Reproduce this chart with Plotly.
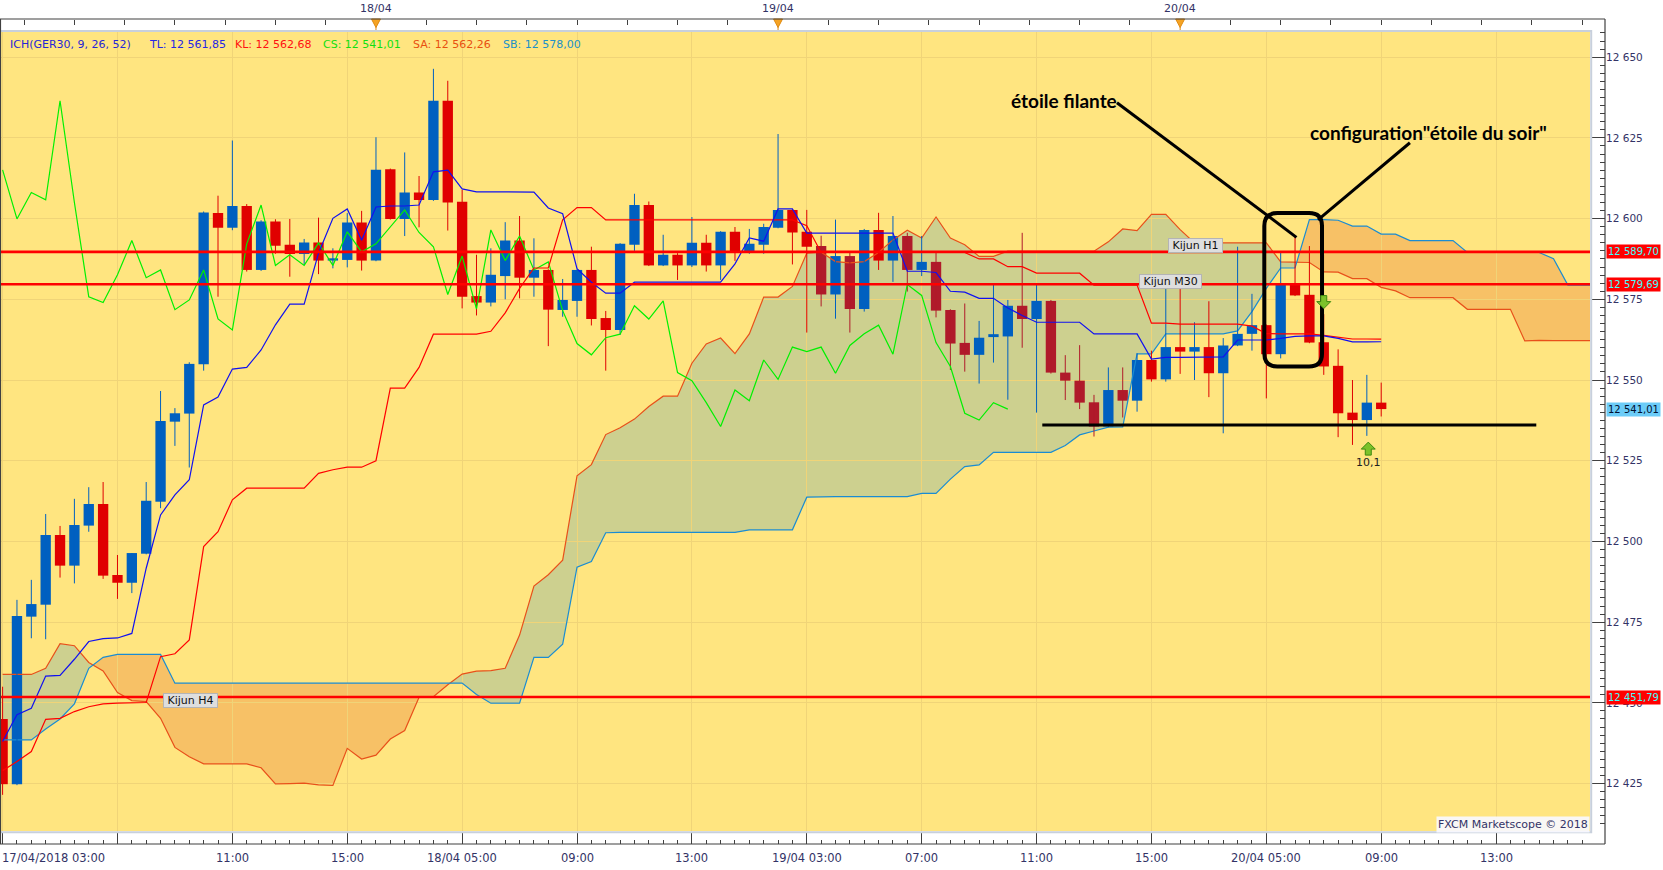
import plotly.graph_objects as go

# ------------------------------------------------------------------ data
OPEN = [12445.0, 12424.8, 12476.7, 12480.4, 12502.0, 12492.5, 12504.9, 12511.6, 12489.6, 12487.2,
        12496.2, 12512.3, 12537.1, 12539.6, 12554.9, 12601.7, 12597.2, 12603.9, 12584.1, 12599.1,
        12591.9, 12589.0, 12592.6, 12587.0, 12587.2, 12598.8, 12587.0, 12615.3, 12599.9, 12608.1,
        12605.8, 12636.5, 12605.2, 12576.0, 12574.0, 12582.2, 12593.2, 12581.7, 12584.1, 12571.7,
        12574.5, 12584.1, 12569.2, 12565.5, 12591.9, 12604.2, 12585.5, 12588.8, 12585.5, 12592.5,
        12585.5, 12595.9, 12589.7, 12591.9, 12597.2, 12602.7, 12595.9, 12591.5, 12576.5, 12588.4,
        12572.0, 12596.5, 12587.0, 12594.6, 12584.1, 12586.6, 12571.7, 12561.5, 12557.8, 12563.3,
        12563.5, 12573.0, 12568.9, 12574.5, 12552.3, 12549.8, 12543.1, 12535.6, 12546.9, 12543.6,
        12556.2, 12550.2, 12560.2, 12558.8, 12560.2, 12552.1, 12560.7, 12564.3, 12567.0, 12558.0,
        12579.6, 12576.4, 12561.7, 12554.4, 12539.9, 12537.6, 12543.0]
HIGH = [12455.0, 12481.9, 12488.1, 12508.5, 12504.8, 12513.2, 12516.8, 12518.4, 12495.8, 12496.4,
        12518.4, 12546.6, 12541.3, 12555.5, 12602.2, 12607.1, 12624.2, 12604.5, 12599.5, 12599.8,
        12599.9, 12593.7, 12600.3, 12590.8, 12601.7, 12602.4, 12625.2, 12615.5, 12620.5, 12613.2,
        12646.4, 12642.7, 12608.9, 12588.8, 12590.8, 12598.9, 12600.8, 12593.9, 12584.3, 12581.3,
        12584.3, 12591.3, 12571.4, 12592.4, 12607.7, 12605.3, 12595.0, 12589.3, 12600.5, 12595.0,
        12596.1, 12597.4, 12596.8, 12598.4, 12626.2, 12602.9, 12602.7, 12594.7, 12599.7, 12589.5,
        12596.8, 12601.8, 12600.8, 12595.6, 12594.6, 12589.5, 12571.9, 12573.7, 12568.3, 12579.5,
        12574.8, 12595.6, 12579.5, 12574.8, 12557.7, 12560.8, 12545.4, 12553.9, 12553.9, 12558.3,
        12559.1, 12578.4, 12578.4, 12567.9, 12574.4, 12563.0, 12591.3, 12576.7, 12567.2, 12589.5,
        12594.4, 12591.5, 12570.4, 12559.5, 12550.0, 12551.6, 12549.2]
LOW = [12421.5, 12424.5, 12470.0, 12469.7, 12488.8, 12487.0, 12503.0, 12488.4, 12482.2, 12484.0,
       12496.0, 12510.3, 12529.6, 12522.9, 12552.9, 12575.8, 12596.4, 12583.6, 12583.8, 12589.1,
       12582.0, 12585.6, 12582.8, 12584.6, 12584.9, 12583.9, 12586.8, 12599.7, 12594.6, 12597.3,
       12605.5, 12596.3, 12572.2, 12570.0, 12572.8, 12575.0, 12575.3, 12575.8, 12560.5, 12569.6,
       12569.6, 12566.9, 12552.9, 12564.0, 12590.0, 12585.3, 12585.3, 12581.0, 12585.0, 12583.6,
       12581.0, 12586.9, 12589.1, 12589.1, 12597.0, 12585.8, 12564.7, 12572.8, 12569.0, 12564.7,
       12571.2, 12584.1, 12580.4, 12577.4, 12582.2, 12569.4, 12553.1, 12552.6, 12548.9, 12555.4,
       12543.9, 12560.0, 12539.9, 12552.0, 12543.8, 12541.0, 12532.5, 12535.4, 12538.4, 12540.2,
       12549.5, 12549.5, 12551.9, 12550.0, 12544.7, 12533.5, 12560.5, 12559.1, 12544.3, 12556.7,
       12576.0, 12561.4, 12551.6, 12532.3, 12529.9, 12532.7, 12538.7]
CLOSE = [12424.8, 12476.9, 12480.6, 12502.0, 12492.5, 12505.1, 12511.6, 12489.4, 12487.2, 12496.4,
         12512.6, 12537.3, 12539.7, 12555.0, 12601.9, 12597.2, 12603.9, 12584.1, 12599.1, 12591.6,
         12589.0, 12592.6, 12587.0, 12587.7, 12598.8, 12587.0, 12615.1, 12599.9, 12608.1, 12605.8,
         12636.5, 12605.0, 12575.8, 12574.0, 12582.6, 12593.2, 12581.7, 12584.1, 12571.8, 12574.8,
         12584.1, 12568.9, 12565.5, 12592.2, 12604.2, 12585.5, 12588.8, 12585.5, 12592.5, 12585.5,
         12595.9, 12589.7, 12592.2, 12597.4, 12602.7, 12595.7, 12591.3, 12576.5, 12588.4, 12572.0,
         12596.5, 12587.0, 12594.6, 12584.1, 12586.6, 12571.5, 12561.3, 12557.8, 12563.1, 12564.2,
         12573.0, 12568.9, 12574.5, 12552.3, 12549.8, 12543.0, 12535.6, 12546.9, 12543.6, 12556.2,
         12550.2, 12560.2, 12558.8, 12560.2, 12552.1, 12560.7, 12564.3, 12567.0, 12558.0, 12579.6,
         12576.2, 12561.6, 12554.2, 12539.7, 12537.6, 12543.0, 12541.0]
# bearish candles drawn in darker red (inside the green cloud)
DARK_CANDLES = [57, 59, 63, 65, 66, 67, 71, 73, 74, 75, 76, 78]

TENKAN = [12438.0, 12446.3, 12448.3, 12458.3, 12458.5, 12463.5, 12469.0, 12469.9, 12470.1, 12471.5,
          12491.7, 12508.2, 12514.4, 12519.1, 12542.3, 12544.7, 12553.4, 12553.9, 12559.3, 12567.1,
          12573.5, 12573.5, 12589.3, 12600.1, 12603.0, 12593.3, 12603.6, 12603.9, 12603.9, 12604.2,
          12614.5, 12615.0, 12609.2, 12608.3, 12608.3, 12608.3, 12608.3, 12608.2, 12603.3, 12601.5,
          12584.5, 12580.3, 12576.9, 12576.9, 12580.3, 12580.3, 12580.3, 12580.3, 12580.3, 12580.3,
          12580.3, 12586.0, 12594.0, 12593.0, 12603.0, 12603.0, 12595.5, 12595.5, 12595.5, 12595.5,
          12595.5, 12595.5, 12595.5, 12583.7, 12583.7, 12583.3, 12577.5, 12577.2, 12575.3, 12575.3,
          12572.3, 12570.0, 12567.9, 12567.9, 12567.9, 12567.9, 12564.3, 12564.3, 12564.3, 12564.3,
          12556.5, 12557.0, 12557.0, 12557.0, 12557.0, 12557.2, 12562.4, 12562.4, 12562.4, 12562.9,
          12563.5, 12563.7, 12563.7, 12562.9, 12561.8, 12561.8, 12561.85]
KIJUN = [12429.0, 12431.8, 12434.9, 12444.9, 12445.2, 12447.3, 12448.8, 12449.7, 12449.9, 12449.9,
         12450.1, 12464.3, 12465.2, 12469.5, 12498.4, 12503.0, 12512.9, 12516.5, 12516.5, 12516.5,
         12516.5, 12516.5, 12521.1, 12522.2, 12523.0, 12523.0, 12525.0, 12547.5, 12547.5, 12553.9,
         12564.2, 12564.2, 12564.2, 12564.2, 12565.1, 12570.8, 12578.4, 12584.7, 12584.7, 12599.6,
         12603.4, 12603.4, 12599.6, 12599.6, 12599.6, 12599.6, 12599.6, 12599.6, 12599.6, 12599.6,
         12599.6, 12599.6, 12599.6, 12599.6, 12599.6, 12599.6, 12597.8, 12589.5, 12589.5, 12589.5,
         12589.5, 12589.5, 12589.5, 12589.5, 12589.5, 12589.5, 12589.5, 12589.5, 12587.5, 12587.5,
         12585.1, 12585.1, 12583.1, 12583.1, 12583.1, 12583.1, 12579.4, 12579.4, 12579.4, 12579.4,
         12567.6, 12567.6, 12567.3, 12567.3, 12567.3, 12567.3, 12567.3, 12566.7, 12564.4, 12564.3,
         12564.3, 12564.3, 12563.8, 12563.2, 12562.7, 12562.7, 12562.68]
SENKOU_A = [12458.8, 12458.8, 12458.8, 12460.7, 12468.3, 12467.7, 12462.5, 12459.9, 12453.2, 12450.7,
            12450.4, 12445.2, 12436.2, 12433.3, 12431.1, 12431.1, 12431.1, 12431.1, 12429.9, 12424.9,
            12425.0, 12425.1, 12424.6, 12424.4, 12435.9, 12432.6, 12433.8, 12438.8, 12441.4, 12451.7,
            12451.9, 12455.6, 12458.9, 12459.8, 12460.0, 12460.7, 12471.0, 12486.2, 12489.7, 12494.2,
            12520.3, 12523.8, 12533.1, 12535.2, 12537.9, 12541.8, 12545.0, 12545.0, 12555.2, 12561.2,
            12563.0, 12558.2, 12564.3, 12575.7, 12575.7, 12579.0, 12589.3, 12589.6, 12586.7, 12586.3,
            12586.7, 12589.5, 12593.4, 12596.4, 12594.0, 12600.5, 12594.0, 12591.9, 12588.3, 12588.3,
            12589.9, 12589.9, 12589.9, 12589.9, 12589.9, 12589.9, 12589.9, 12592.8, 12596.8, 12596.3,
            12601.3, 12601.3, 12596.6, 12592.5, 12592.5, 12592.5, 12592.5, 12592.5, 12592.5, 12586.6,
            12586.6, 12586.4, 12583.5, 12583.4, 12581.4, 12581.4, 12578.7, 12577.6, 12575.5, 12575.5,
            12575.5, 12575.5, 12571.9, 12571.9, 12571.9, 12571.9, 12562.1, 12562.3, 12562.2, 12562.2,
            12562.2, 12562.2]
SENKOU_B = [12438.5, 12438.5, 12438.5, 12441.9, 12445.0, 12449.7, 12460.7, 12464.1, 12465.0, 12465.0,
            12465.0, 12465.0, 12456.1, 12456.1, 12456.1, 12456.1, 12456.1, 12456.1, 12456.1, 12456.1,
            12456.1, 12456.1, 12456.1, 12456.1, 12456.1, 12456.1, 12456.1, 12456.1, 12456.1, 12456.1,
            12456.1, 12456.1, 12456.1, 12452.6, 12449.9, 12449.9, 12449.9, 12464.1, 12464.1, 12468.2,
            12492.0, 12493.8, 12502.7, 12502.8, 12502.8, 12502.8, 12502.8, 12502.8, 12502.8, 12502.8,
            12502.8, 12502.8, 12503.6, 12503.6, 12503.6, 12503.6, 12513.7, 12513.9, 12513.9, 12513.9,
            12513.9, 12513.9, 12513.9, 12513.9, 12514.9, 12514.9, 12519.3, 12523.2, 12523.7, 12527.6,
            12527.6, 12527.6, 12527.6, 12527.6, 12529.7, 12533.0, 12534.2, 12535.4, 12535.5, 12558.1,
            12558.1, 12564.3, 12564.3, 12564.3, 12564.3, 12564.3, 12565.2, 12571.2, 12578.4, 12584.7,
            12584.7, 12599.7, 12599.7, 12599.5, 12597.7, 12597.7, 12595.2, 12595.2, 12593.2, 12593.2,
            12593.2, 12593.2, 12589.5, 12589.5, 12589.5, 12589.5, 12589.5, 12589.5, 12587.6, 12579.4,
            12579.4, 12579.4]
CHIKOU_SHIFT = 26

KIJUN_LEVELS = [12589.70, 12579.69, 12451.79]
KIJUN_LEVEL_NAMES = ["Kijun H1", "Kijun M30", "Kijun H4"]
KIJUN_LEVEL_TAGS = ["12 589,70", "12 579,69", "12 451,79"]
LAST_PRICE = 12541.01
LAST_PRICE_TAG = "12 541,01"
SUPPORT_LEVEL = 12536.1

Y_TICKS = [12425, 12450, 12475, 12500, 12525, 12550, 12575, 12600, 12625, 12650]
Y_TICK_LABELS = ["12 425", "12 450", "12 475", "12 500", "12 525", "12 550", "12 575", "12 600", "12 625", "12 650"]
X_TICKS = [0, 8, 16, 24, 32, 40, 48, 56, 64, 72, 80, 88, 96, 104]
X_TICK_LABELS = ["17/04/2018 03:00", "", "11:00", "15:00", "18/04 05:00", "09:00", "13:00",
                 "19/04 03:00", "07:00", "11:00", "15:00", "20/04 05:00", "09:00", "13:00"]
DAY_STARTS = [26, 54, 82]
DAY_LABELS = ["18/04", "19/04", "20/04"]

LEGEND_TEXTS = ["ICH(GER30, 9, 26, 52)", "TL: 12 561,85", "KL: 12 562,68", "CS: 12 541,01",
                "SA: 12 562,26", "SB: 12 578,00"]
LEGEND_COLORS = ["#2626d6", "#2626e6", "#ff1010", "#10e010", "#e85010", "#2090c8"]
LEGEND_X_PX = [8.4, 146.6, 232.7, 320.7, 411.4, 501.3]

# ------------------------------------------------------------------ geometry / style
FIG_W, FIG_H = 1663, 870
M_L, M_R, M_T, M_B = 0, 58, 19, 26
PAPER_W = FIG_W - M_L - M_R
PAPER_H = FIG_H - M_T - M_B
PLOT_RIGHT_PX = 1590.0
PLOT_TOP_PX, PLOT_BOTTOM_PX = 31.7, 831.0
X_RANGE = [-0.181, 110.54]
Y_RANGE = [12410.3, 12657.9]
CANDLE_PX = PLOT_RIGHT_PX / (X_RANGE[1] - X_RANGE[0])
POINT_PX = (PLOT_BOTTOM_PX - PLOT_TOP_PX) / (Y_RANGE[1] - Y_RANGE[0])

BG = "#ffe580"
GRID = "#f0d478"
BLUE = "#0060c0"
RED = "#e00000"
DARK_RED = "#b01a2a"
GREEN_CLOUD = "#cdd08f"
ORANGE_CLOUD = "#f7c166"
AXIS_COL = "#404040"
LABEL_COL = "#333366"
FONT = "DejaVu Sans"


def px_to_paper_x(px):
    return (px - M_L) / PAPER_W


def py_to_paper_y(py):
    return (FIG_H - M_B - py) / PAPER_H


def dxp(px):
    return px / CANDLE_PX


def dyp(px):
    return px / POINT_PX


fig = go.Figure()
shapes = []

# ------------------------------------------------------------------ cloud (shapes below the traces)
def cloud_polys(a, b):
    polys = {True: [], False: []}
    s = a[0] >= b[0]
    top, bot = [(0, a[0])], [(0, b[0])]
    for i in range(1, len(a)):
        si = a[i] >= b[i]
        if si != s:
            d0, d1 = a[i - 1] - b[i - 1], a[i] - b[i]
            t = d0 / (d0 - d1)
            xc, yc = i - 1 + t, a[i - 1] + t * (a[i] - a[i - 1])
            top.append((xc, yc))
            bot.append((xc, yc))
            polys[s].append(top + bot[::-1])
            top, bot = [(xc, yc), (i, a[i])], [(xc, yc), (i, b[i])]
            s = si
        else:
            top.append((i, a[i]))
            bot.append((i, b[i]))
    polys[s].append(top + bot[::-1])
    return polys


polys = cloud_polys(SENKOU_A, SENKOU_B)
for key, col in ((True, GREEN_CLOUD), (False, ORANGE_CLOUD)):
    for poly in polys[key]:
        path = "M " + " L ".join(f"{x:.4f},{y:.3f}" for x, y in poly) + " Z"
        shapes.append(dict(type="path", xref="x", yref="y", path=path, fillcolor=col,
                           line=dict(width=0), layer="below"))

cloud_x = list(range(len(SENKOU_A)))
fig.add_trace(go.Scatter(x=cloud_x, y=SENKOU_A, mode="lines", line=dict(color="#e8501a", width=1.2),
                         hoverinfo="skip"))
fig.add_trace(go.Scatter(x=cloud_x, y=SENKOU_B, mode="lines", line=dict(color="#1a8cd2", width=1.2),
                         hoverinfo="skip"))

# ------------------------------------------------------------------ candles
groups = {"blue": ([], [], [], [], []), "red": ([], [], [], [], []), "dark": ([], [], [], [], [])}
for i in range(len(CLOSE)):
    o, h, l, c = OPEN[i], HIGH[i], LOW[i], CLOSE[i]
    g = "blue" if c >= o else ("dark" if i in DARK_CANDLES else "red")
    bx, bbase, bh, wx, wy = groups[g]
    bx.append(i)
    bbase.append(min(o, c))
    bh.append(max(abs(c - o), 0.35))
    wx += [i, i, None]
    wy += [l, h, None]

group_col = {"blue": BLUE, "red": RED, "dark": DARK_RED}
for g, (bx, bbase, bh, wx, wy) in groups.items():
    fig.add_trace(go.Scatter(x=wx, y=wy, mode="lines", line=dict(color=group_col[g], width=1),
                             hoverinfo="skip"))
for g, (bx, bbase, bh, wx, wy) in groups.items():
    fig.add_trace(go.Bar(x=bx, y=bh, base=bbase, width=0.72, marker=dict(color=group_col[g], line=dict(width=0)),
                         hoverinfo="skip"))

# ------------------------------------------------------------------ ichimoku lines
chikou_y = CLOSE[CHIKOU_SHIFT:]
fig.add_trace(go.Scatter(x=list(range(len(chikou_y))), y=chikou_y, mode="lines",
                         line=dict(color="#00f000", width=1.2), hoverinfo="skip"))
fig.add_trace(go.Scatter(x=list(range(len(KIJUN))), y=KIJUN, mode="lines",
                         line=dict(color="#ff0000", width=1.2), hoverinfo="skip"))
fig.add_trace(go.Scatter(x=list(range(len(TENKAN))), y=TENKAN, mode="lines",
                         line=dict(color="#1010f0", width=1.2), hoverinfo="skip"))

# dummy traces so the auxiliary axes are drawn
fig.add_trace(go.Scatter(x=[50], y=[12500], xaxis="x2", yaxis="y", mode="markers",
                         marker=dict(opacity=0), hoverinfo="skip"))
fig.add_trace(go.Scatter(x=[50], y=[12500], xaxis="x3", yaxis="y", mode="markers",
                         marker=dict(opacity=0), hoverinfo="skip"))
fig.add_trace(go.Scatter(x=[50], y=[12500], xaxis="x", yaxis="y2", mode="markers",
                         marker=dict(opacity=0), hoverinfo="skip"))

# ------------------------------------------------------------------ shapes
plot_right_paper = px_to_paper_x(PLOT_RIGHT_PX)
for lvl in KIJUN_LEVELS:
    shapes.append(dict(type="line", xref="paper", yref="y", x0=0, x1=plot_right_paper, y0=lvl, y1=lvl,
                       line=dict(color="#ff0000", width=2.6), layer="above"))

# support line
SUPPORT_X = (72.4, 106.8)
shapes.append(dict(type="line", xref="x", yref="y", x0=SUPPORT_X[0], x1=SUPPORT_X[1],
                   y0=SUPPORT_LEVEL, y1=SUPPORT_LEVEL, line=dict(color="black", width=3), layer="above"))

# pointer lines
POINTERS = [((77.6, 12635.9), (90.1, 12594.2)), ((98.0, 12623.5), (91.6, 12599.6))]
for (xa, ya), (xb, yb) in POINTERS:
    shapes.append(dict(type="line", xref="x", yref="y", x0=xa, y0=ya, x1=xb, y1=yb,
                       line=dict(color="black", width=3), layer="above"))

# rounded rectangle around the evening star pattern
bx0, bx1, by0, by1 = 87.86, 91.88, 12554.2, 12601.7
rx, ry = dxp(13), dyp(13)
path = (f"M {bx0+rx},{by1} L {bx1-rx},{by1} Q {bx1},{by1} {bx1},{by1-ry} L {bx1},{by0+ry} "
        f"Q {bx1},{by0} {bx1-rx},{by0} L {bx0+rx},{by0} Q {bx0},{by0} {bx0},{by0+ry} "
        f"L {bx0},{by1-ry} Q {bx0},{by1} {bx0+rx},{by1} Z")
shapes.append(dict(type="path", xref="x", yref="y", path=path, line=dict(color="black", width=4),
                   layer="above"))

# green signal arrows
ARROW_PTS = [(0, 7), (7, 0), (3, 0), (3, -6), (-3, -6), (-3, 0), (-7, 0)]


def block_arrow(cx, cy, up=True):
    sgn = 1 if up else -1
    pts = [(cx + dxp(px), cy + sgn * dyp(py)) for px, py in ARROW_PTS]
    return "M " + " L ".join(f"{x},{y}" for x, y in pts) + " Z"


shapes.append(dict(type="path", xref="x", yref="y", path=block_arrow(92.0, 12574.3, up=False),
                   fillcolor="#7cc22a", line=dict(color="#3f8a10", width=1), layer="above"))
shapes.append(dict(type="path", xref="x", yref="y", path=block_arrow(95.1, 12528.6, up=True),
                   fillcolor="#7cc22a", line=dict(color="#3f8a10", width=1), layer="above"))

# day markers on top axis
for d in DAY_STARTS:
    shapes.append(dict(type="path", xref="x", yref="paper",
                       path=f"M {d-dxp(4.5)},{py_to_paper_y(19)} L {d+dxp(4.5)},{py_to_paper_y(19)} "
                            f"L {d},{py_to_paper_y(27.5)} Z",
                       fillcolor="#f5a323", line=dict(color="#e08a10", width=1), layer="above"))
    shapes.append(dict(type="line", xref="x", yref="paper", x0=d, x1=d, y0=py_to_paper_y(27),
                       y1=py_to_paper_y(30.5), line=dict(color="#e08a10", width=1), layer="above"))

# frame / axis lines
shapes.append(dict(type="rect", xref="paper", yref="paper", x0=px_to_paper_x(-1),
                   x1=px_to_paper_x(PLOT_RIGHT_PX + 1.2), y0=py_to_paper_y(PLOT_BOTTOM_PX + 1.2),
                   y1=py_to_paper_y(PLOT_TOP_PX - 0.8), line=dict(color="#c8d0dc", width=2), layer="above"))
for (x0, y0, x1, y1) in [(0, 1, 1, 1), (0, 0, 1, 0), (1, 0, 1, 1), (0.0003, 0, 0.0003, 1)]:
    shapes.append(dict(type="line", xref="paper", yref="paper", x0=x0, y0=y0, x1=x1, y1=y1,
                       line=dict(color=AXIS_COL, width=1.2), layer="above"))

# ------------------------------------------------------------------ annotations
ann = []
for txt, col, xpx in zip(LEGEND_TEXTS, LEGEND_COLORS, LEGEND_X_PX):
    ann.append(dict(text=txt, xref="paper", yref="paper", x=px_to_paper_x(xpx), y=py_to_paper_y(45),
                    xanchor="left", yanchor="middle", showarrow=False,
                    font=dict(family=FONT, size=11, color=col)))

for k, lab in zip(X_TICKS, X_TICK_LABELS):
    if not lab:
        continue
    first = k == X_TICKS[0]
    ann.append(dict(text=lab, xref="paper" if first else "x", yref="paper",
                    x=0 if first else k, y=py_to_paper_y(857.5),
                    xanchor="left" if first else "center", yanchor="middle", showarrow=False,
                    font=dict(family=FONT, size=11.5, color=LABEL_COL)))

for d, lab in zip(DAY_STARTS, DAY_LABELS):
    ann.append(dict(text=lab, xref="x", yref="paper", x=d, y=py_to_paper_y(8.5), xanchor="center",
                    yanchor="middle", showarrow=False, font=dict(family=FONT, size=11, color=LABEL_COL)))

NB = "\u00a0"
LABEL_POS = [(83.1, 12591.7), (81.34, 12580.6), (13.05, 12450.6)]
for name, (lx, ly) in zip(KIJUN_LEVEL_NAMES, LABEL_POS):
    ann.append(dict(text=NB + name + NB, xref="x", yref="y", x=lx, y=ly, xanchor="center", yanchor="middle",
                    showarrow=False, bgcolor="#dedede", bordercolor="#b4b4b4", borderwidth=1, borderpad=0,
                    font=dict(family=FONT, size=11, color="#111111")))

for lvl, tag in zip(KIJUN_LEVELS, KIJUN_LEVEL_TAGS):
    ann.append(dict(text=tag, xref="paper", yref="y", x=px_to_paper_x(1606), y=lvl, xanchor="left",
                    yanchor="middle", showarrow=False, bgcolor="#ff0000", borderpad=1,
                    font=dict(family=FONT, size=10, color="#40ffff")))
ann.append(dict(text=LAST_PRICE_TAG, xref="paper", yref="y", x=px_to_paper_x(1606), y=LAST_PRICE,
                xanchor="left", yanchor="middle", showarrow=False, bgcolor="#6cccf8", borderpad=1,
                font=dict(family=FONT, size=10, color="#001030")))

ann.append(dict(text="<b>étoile filante</b>", xref="x", yref="y", x=70.1, y=12636.6, xanchor="left",
                yanchor="middle", showarrow=False, font=dict(family="Lato", size=19, color="black")))
ann.append(dict(text="<b>configuration\"étoile du soir\"</b>", xref="x", yref="y", x=90.9, y=12626.8,
                xanchor="left", yanchor="middle", showarrow=False,
                font=dict(family="Lato", size=19, color="black")))
ann.append(dict(text="10,1", xref="x", yref="y", x=95.1, y=12524.6, xanchor="center", yanchor="middle",
                showarrow=False, font=dict(family=FONT, size=11, color="#202020")))
ann.append(dict(text="FXCM Marketscope © 2018", xref="paper", yref="paper", x=plot_right_paper,
                y=py_to_paper_y(824.5), xanchor="right", yanchor="middle", showarrow=False,
                bgcolor="rgba(248,248,255,0.92)", borderpad=1,
                font=dict(family=FONT, size=11, color=LABEL_COL)))

# ------------------------------------------------------------------ layout
y_domain = [py_to_paper_y(PLOT_BOTTOM_PX), py_to_paper_y(PLOT_TOP_PX)]
fig.update_layout(
    width=FIG_W, height=FIG_H, margin=dict(l=M_L, r=M_R, t=M_T, b=M_B, pad=0),
    paper_bgcolor="white", plot_bgcolor=BG, showlegend=False, barmode="overlay",
    font=dict(family=FONT, size=11, color=LABEL_COL),
    xaxis=dict(domain=[0, plot_right_paper], range=X_RANGE, tickmode="array", tickvals=X_TICKS,
               showticklabels=False, ticks="", showgrid=True, gridcolor=GRID, gridwidth=1,
               zeroline=False, showline=False, fixedrange=True),
    yaxis=dict(domain=y_domain, range=Y_RANGE, tickmode="array", tickvals=Y_TICKS, showticklabels=False,
               ticks="", showgrid=True, gridcolor=GRID, gridwidth=1, zeroline=False, showline=False,
               fixedrange=True),
    xaxis2=dict(overlaying="x", anchor="free", position=0, side="bottom", range=X_RANGE,
                tickmode="array", tickvals=X_TICKS, showticklabels=False, ticks="inside", ticklen=12,
                tickcolor=AXIS_COL, tickwidth=1, showgrid=False, zeroline=False, showline=False,
                minor=dict(tick0=0, dtick=1, ticks="inside", ticklen=4, tickcolor=AXIS_COL, showgrid=False),
                fixedrange=True),
    xaxis3=dict(overlaying="x", anchor="free", position=1, side="top", range=X_RANGE,
                tickmode="linear", tick0=1.5, dtick=3.5, showticklabels=False, ticks="inside", ticklen=5,
                tickcolor=AXIS_COL, showgrid=False, zeroline=False, showline=False, fixedrange=True),
    yaxis2=dict(overlaying="y", anchor="free", position=1, side="right", range=Y_RANGE,
                tickmode="array", tickvals=Y_TICKS, ticktext=Y_TICK_LABELS, ticks="inside", ticklen=14,
                tickcolor=AXIS_COL, tickfont=dict(family=FONT, size=10.5, color=LABEL_COL),
                showgrid=False, zeroline=False, showline=False,
                minor=dict(tick0=0, dtick=2.5, ticks="inside", ticklen=5, tickcolor=AXIS_COL, showgrid=False),
                fixedrange=True),
    shapes=shapes, annotations=ann,
)

fig.write_html("out.html", config={"displayModeBar": False},
               post_script="document.body.style.margin='0';")
